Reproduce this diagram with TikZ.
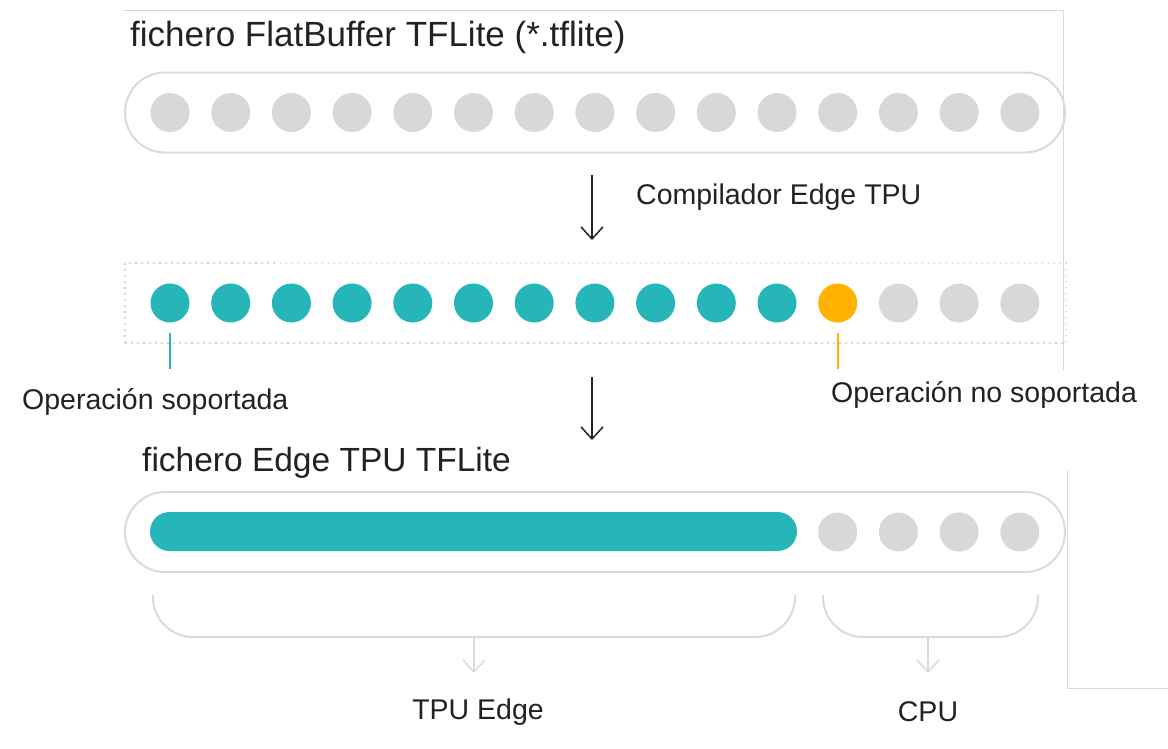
\documentclass[tikz,border=0pt]{standalone}
\usepackage{fontspec}
\setmainfont{Liberation Sans}
\usetikzlibrary{arrows.meta,positioning}
\definecolor{tealop}{HTML}{26B5B9}
\definecolor{amberop}{HTML}{FFB300}
\definecolor{idleop}{HTML}{D8D8D8}
\definecolor{rim}{HTML}{DADADA}
\definecolor{ink}{HTML}{222222}
\tikzset{
	pill/.style={draw=rim,line width=2pt,rectangle,rounded corners=40pt,minimum width=940pt,minimum height=80pt},
	dotbox/.style={draw=idleop,line width=1.5pt,dash pattern=on 1.5pt off 4.5pt,minimum width=941pt,minimum height=80pt},
	op/.style={circle,minimum size=39pt,inner sep=0pt},
	heading/.style={text=ink,font=\fontsize{35}{42}\selectfont,anchor=west,inner sep=0pt},
	note/.style={text=ink,font=\fontsize{28.5}{34}\selectfont,inner sep=0pt},
	brace/.style={draw=rim,line width=2pt,rounded corners=40pt},
	-v/.style={-{Straight Barb[length=12pt,width=22pt]},line width=1.5pt},
	frame/.style={draw=black!15,line width=1pt}
}

\begin{document}
\begin{tikzpicture}[x=1pt,y=-1pt]
	\useasboundingbox (0,0) rectangle (1168,748);
	\draw[frame] (123,10) -- (1063,10) -- (1063,370);
	\draw[frame] (1067,470) -- (1067,688) -- (1168,688);
	% tflite file
	\node[heading] (src) at (130,37) {fichero FlatBuffer TFLite (*.tflite)};
	\node[pill] (flat) at (595,112.5) {};
	\foreach \i in {0,...,14}
		\node[op,fill=idleop] (f\i) at (170+60.7*\i,112.5) {};
	% compiler step
	\coordinate (c1) at (592,175);
	\coordinate (c2) at (592,240);
	\draw[-v,ink] (c1) -- (c2);
	\node[note,anchor=west] (comp) at (636,197) {Compilador Edge TPU};
	% ops after mapping
	\node[dotbox] (ops) at (595.5,303) {};
	\foreach \i in {0,...,10}
		\node[op,fill=tealop] (t\i) at (170+60.7*\i,303) {};
	\node[op,fill=amberop] (no) at (837.7,303) {};
	\foreach \i in {12,13,14}
		\node[op,fill=idleop] (g\i) at (170+60.7*\i,303) {};
	\draw[tealop,line width=2pt] ([yshift=-10pt]t0.south) -- ([yshift=-46pt]t0.south);
	\draw[amberop,line width=2pt] ([yshift=-10pt]no.south) -- ([yshift=-46pt]no.south);
	\node[note,anchor=west] (yes) at (22,402) {Operación soportada};
	\node[note,anchor=west] (nope) at (831,395) {Operación no soportada};
	\coordinate (c3) at (592,377);
	\coordinate (c4) at (592,440);
	\draw[-v,ink] (c3) -- (c4);
	% edge tpu file
	\node[heading,font=\fontsize{33.5}{40}\selectfont] (dst) at (142,463) {fichero Edge TPU TFLite};
	\node[pill] (edge) at (595,532) {};
	\node[fill=tealop,rounded corners=19.5pt,minimum width=647pt,minimum height=39pt] (fused) at (473.5,531.5) {};
	\foreach \i in {11,...,14}
		\node[op,fill=idleop] (e\i) at (170+60.7*\i,532) {};
	% split
	\draw[brace] (153,595) |- (795,637) -- (795,595);
	\draw[brace] (823,595) |- (1038,637) -- (1038,595);
	\coordinate (b1) at (474,637);
	\coordinate (b2) at (474,673);
	\coordinate (b3) at (928,637);
	\coordinate (b4) at (928,673);
	\draw[-v,rim] (b1) -- (b2);
	\draw[-v,rim] (b3) -- (b4);
	\node[note] (tpu) at (478,712) {TPU Edge};
	\node[note] (cpu) at (928,712) {CPU};
\end{tikzpicture}
\end{document}
